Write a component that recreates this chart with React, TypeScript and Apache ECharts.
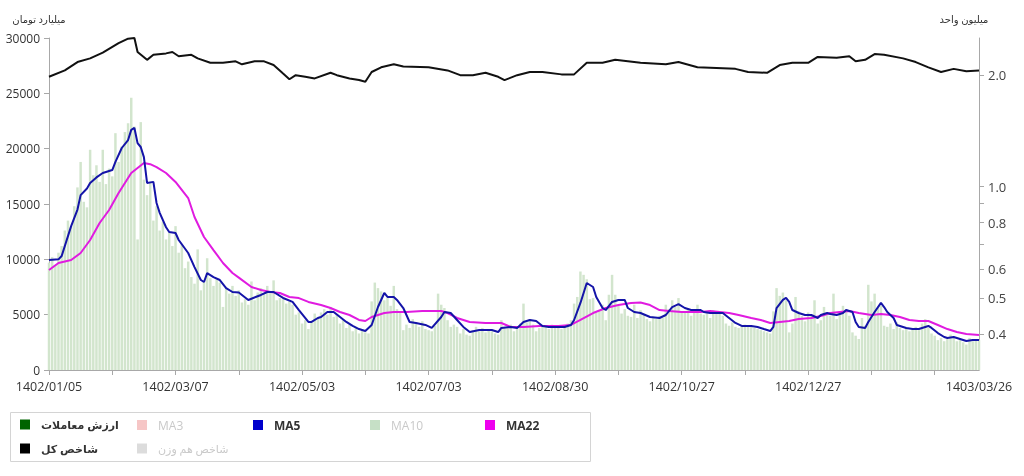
import React, { useEffect, useRef } from 'react';
import * as echarts from 'echarts';

// ---- categories (trading days) ----
const categoryCount = 295;
const dateLabels = ['1402/01/05', '1402/03/07', '1402/05/03', '1402/07/03', '1402/08/30', '1402/10/27', '1402/12/27', '1403/03/26'];
const dateLabelIndex = [0, 40, 80, 120, 160, 200, 240, 294];

// ---- trade value (billion toman), one bar per trading day ----
const tradeValue = [
  9700, 10200, 9500, 10600, 11200, 12600, 13500, 13000, 14800, 16500,
  18800, 15200, 14700, 19900, 17600, 18500, 17000, 19900, 16800, 18200,
  17500, 21400, 18800, 20200, 21500, 22300, 24600, 22000, 11800, 22400,
  17200, 15800, 16900, 13500, 14800, 12600, 13400, 11800, 12500, 11200,
  13000, 10600, 11400, 9200, 9800, 8400, 7800, 10900, 7200, 8000,
  10100, 8300, 7600, 8200, 7900, 5700, 7400, 6900, 7600, 6700,
  7200, 6100, 6400, 5900, 8000, 6300, 7000, 7400, 6900, 7600,
  7000, 8100, 6300, 6500, 6400, 6000, 6200, 5900, 5000, 5200,
  4200, 4500, 3700, 4300, 5100, 4800, 5200, 5500, 5000, 5700,
  4800, 5000, 4200, 4500, 3800, 4100, 3500, 3900, 3300, 3600,
  3400, 3300, 6200, 7900, 7400, 7100, 6300, 6500, 5800, 7600,
  5500, 5200, 3600, 4100, 3800, 4600, 4300, 3900, 4400, 3700,
  3600, 3500, 4000, 6900, 5900, 5600, 4500, 3900, 4100, 3900,
  3300, 3700, 3200, 3100, 3600, 3900, 3500, 3800, 3400, 3700,
  3500, 3300, 3200, 4500, 3900, 3800, 4100, 3500, 3700, 4200,
  6000, 4300, 4600, 4100, 3500, 3800, 3900, 4000, 3700, 4100,
  3800, 4000, 3700, 3900, 4200, 4500, 6000, 6600, 8900, 8600,
  8200, 6400, 6500, 5200, 5400, 5900, 4500, 6800, 8600, 6800,
  5800, 5100, 5500, 4900, 4800, 5900, 4700, 5400, 5000, 4600,
  4400, 4800, 4600, 4900, 4700, 5900, 5500, 6300, 5700, 6500,
  5300, 5200, 5600, 4900, 5500, 5900, 5100, 5000, 5300, 4700,
  5400, 5300, 5100, 4900, 4200, 4000, 4300, 3900, 3800, 4000,
  4100, 3900, 4000, 3800, 3700, 3600, 3500, 3400, 3300, 5300,
  7400, 6700, 7000, 6300, 3400, 4200, 6600, 5300, 4900, 4400,
  5200, 4900, 6300, 4200, 4500, 5700, 5000, 4900, 6900, 4600,
  5300, 5800, 5500, 4900, 3400, 3100, 2800, 4700, 4000, 7700,
  6200, 6900, 5600, 5800, 4000, 3900, 4200, 3700, 4300, 3800,
  3600, 3800, 3500, 3700, 3900, 3600, 4200, 4600, 3800, 3300,
  3100, 2700, 2900, 2600, 2800, 3200, 2900, 2600, 2700, 2500,
  2300, 2900, 2600, 2800, 2700,
];

// ---- MA5 [dayIndex, value] ----
const ma5Points = [
  [0, 9940], [3, 10000], [4, 10300], [7, 13000], [9, 14500], [10, 15800], [12, 16400], [13, 16900], [15, 17400], [17, 17800],
  [20, 18070], [21, 18800], [23, 20060], [25, 20780], [26, 21700], [27, 21870], [28, 20500], [29, 20150], [30, 19240], [31, 16900],
  [33, 17000], [34, 15090], [35, 14200], [37, 12900], [38, 12470], [40, 12380], [41, 11750], [44, 10570], [46, 9300], [48, 8130],
  [49, 7950], [50, 8760], [52, 8400], [54, 8130], [56, 7400], [58, 7050], [60, 7000], [63, 6330], [67, 6780], [69, 7050],
  [71, 7050], [74, 6510], [77, 6150], [79, 5420], [82, 4340], [83, 4340], [85, 4700], [86, 4790], [88, 5240], [90, 5240],
  [92, 4790], [94, 4340], [96, 3980], [98, 3700], [100, 3520], [102, 4070], [104, 5690], [106, 6960], [107, 6600], [109, 6600],
  [110, 6330], [112, 5600], [114, 4340], [116, 4250], [119, 4070], [121, 3800], [124, 4790], [125, 5240], [127, 5150], [129, 4520],
  [131, 3890], [133, 3430], [136, 3610], [138, 3610], [140, 3610], [142, 3430], [143, 3800], [146, 3890], [148, 3800], [150, 4340],
  [152, 4520], [154, 4430], [156, 3980], [158, 3890], [161, 3890], [163, 3890], [165, 4070], [166, 4520], [168, 6060], [170, 7860],
  [172, 7500], [173, 6600], [175, 5600], [176, 5420], [178, 6150], [180, 6330], [182, 6330], [183, 5600], [185, 5240], [187, 5150],
  [190, 4790], [193, 4700], [195, 4970], [197, 5690], [199, 5960], [201, 5600], [203, 5420], [206, 5420], [207, 5240], [209, 5150],
  [211, 5150], [213, 5150], [215, 4700], [217, 4250], [219, 3980], [222, 3980], [224, 3890], [226, 3700], [228, 3520], [229, 3890],
  [230, 5600], [232, 6330], [233, 6510], [234, 6150], [235, 5420], [237, 5150], [239, 4970], [241, 4970], [243, 4700], [244, 4970],
  [246, 5150], [247, 5060], [249, 4970], [251, 5150], [252, 5420], [254, 5240], [255, 4340], [256, 3890], [258, 3800], [259, 4340],
  [261, 5240], [263, 6060], [264, 5690], [265, 5240], [267, 4700], [268, 4070], [271, 3800], [273, 3700], [275, 3700], [278, 3980],
  [279, 3800], [281, 3340], [283, 2980], [284, 2890], [286, 2980], [288, 2800], [290, 2620], [292, 2710], [294, 2710],
];

// ---- MA22 [dayIndex, value] ----
const ma22Points = [
  [0, 9040], [3, 9670], [7, 9940], [10, 10570], [13, 11750], [16, 13280], [19, 14460], [22, 15990], [26, 17800], [28, 18250],
  [30, 18700], [32, 18600], [34, 18340], [37, 17800], [40, 16990], [44, 15540], [46, 13830], [49, 12020], [52, 10840], [55, 9670],
  [58, 8760], [60, 8350], [64, 7500], [67, 7230], [70, 7050], [73, 6960], [76, 6600], [79, 6500], [82, 6150], [86, 5870],
  [89, 5600], [92, 5240], [95, 4970], [98, 4520], [100, 4430], [102, 4790], [106, 5150], [109, 5240], [113, 5240], [118, 5330],
  [124, 5330], [126, 5150], [129, 4700], [133, 4340], [138, 4250], [143, 4250], [146, 3890], [150, 3890], [155, 3980], [161, 3980],
  [165, 4070], [168, 4520], [172, 5150], [176, 5600], [180, 5870], [184, 6060], [187, 6100], [190, 5870], [193, 5420], [196, 5330],
  [200, 5240], [203, 5240], [206, 5240], [209, 5330], [212, 5240], [215, 5150], [218, 4970], [222, 4700], [225, 4520], [228, 4250],
  [231, 4340], [234, 4430], [237, 4610], [241, 4700], [244, 4880], [247, 5150], [250, 5240], [253, 5330], [256, 5150], [260, 4970],
  [263, 5060], [266, 4970], [269, 4790], [272, 4520], [275, 4430], [278, 4430], [281, 4070], [284, 3700], [287, 3430], [290, 3250],
  [294, 3160],
];

// ---- total index (million units) [dayIndex, value] ----
const indexPoints = [
  [0, 1.98], [5, 2.06], [9, 2.17], [13, 2.22], [17, 2.30], [22, 2.44], [25, 2.51], [27, 2.52], [28, 2.31], [31, 2.20],
  [33, 2.27], [37, 2.29], [39, 2.31], [41, 2.25], [45, 2.27], [47, 2.22], [51, 2.16], [55, 2.16], [59, 2.18], [61, 2.14],
  [65, 2.18], [68, 2.18], [71, 2.13], [74, 2.02], [76, 1.95], [78, 2.0], [81, 1.98], [84, 1.96], [89, 2.03], [91, 2.0],
  [95, 1.96], [98, 1.94], [100, 1.92], [102, 2.04], [105, 2.10], [109, 2.14], [112, 2.11], [120, 2.10], [126, 2.06], [130, 2.0],
  [134, 2.0], [138, 2.03], [142, 1.98], [144, 1.94], [148, 2.0], [152, 2.04], [156, 2.04], [162, 2.01], [166, 2.01], [170, 2.16],
  [175, 2.16], [179, 2.20], [187, 2.16], [195, 2.14], [199, 2.17], [205, 2.10], [211, 2.09], [217, 2.08], [221, 2.04], [227, 2.03],
  [231, 2.13], [235, 2.16], [240, 2.16], [243, 2.24], [249, 2.23], [253, 2.25], [255, 2.18], [258, 2.20], [261, 2.28], [264, 2.27],
  [270, 2.22], [274, 2.17], [278, 2.10], [282, 2.04], [286, 2.08], [290, 2.05], [294, 2.06],
];

// ---- axes ----
const leftMin = 0;
const leftMax = 30000;
const leftInterval = 5000;
const rightMin = 0.32;
const rightMax = 2.52;
const rightLabelValues = [0.4, 0.5, 0.6, 0.8, 1.0, 2.0];
const rightTickValues = [0.4, 0.5, 0.6, 0.7, 0.8, 0.9, 1.0, 2.0];
const xTickEvery = 20;

// ---- legend entries ----
const legendNames = ['ارزش معاملات', 'MA3', 'MA5', 'MA10', 'MA22', 'شاخص کل', 'شاخص هم وزن'];
const legendColors = ['#006400', '#f6c6c6', '#0000cc', '#c6e0c6', '#ee00ee', '#000000', '#dcdcdc'];
const legendActive = [true, false, true, false, true, true, false];

const FONT = 'Open Sans, DejaVu Sans, sans-serif';
const AXIS_GRAY = '#a8a8a8';

const categories = Array.from({ length: categoryCount }, (_, i) => String(i));

const legendSlots = [
  [20, 419], [137, 419], [253, 419], [370, 419], [485, 419],
  [20, 443], [137, 443],
];

const legends = legendNames.map((name, i) => ({
  left: legendSlots[i][0],
  top: legendSlots[i][1],
  padding: 0,
  icon: 'rect',
  itemWidth: 10,
  itemHeight: 10,
  itemGap: 0,
  selectedMode: false,
  textStyle: {
    fontFamily: FONT,
    fontSize: /[A-Z]/.test(name) ? 12 : 11,
    fontWeight: legendActive[i] ? 'bold' : 'normal',
    color: legendActive[i] ? '#333' : '#c9c9c9',
    padding: [0, 0, 0, 6],
  },
  data: [{ name, itemStyle: { color: legendColors[i] } }],
}));

const option: any = {
  animation: false,
  textStyle: { fontFamily: FONT },
  grid: { left: 49, right: 45, top: 38, bottom: 106, containLabel: false },
  graphic: [
    {
      type: 'text',
      style: { text: 'میلیارد تومان', x: 39, y: 19, textAlign: 'center', textVerticalAlign: 'middle', fill: '#333', font: `10px ${FONT}` },
    },
    {
      type: 'text',
      style: { text: 'میلیون واحد', x: 964, y: 19, textAlign: 'center', textVerticalAlign: 'middle', fill: '#333', font: `10px ${FONT}` },
    },
    {
      type: 'rect',
      shape: { x: 10.5, y: 412.5, width: 580, height: 49 },
      style: { fill: 'none', stroke: '#d4d4d4', lineWidth: 1 },
      silent: true,
    },
  ],
  legend: legends,
  xAxis: {
    type: 'category',
    data: categories,
    boundaryGap: false,
    axisLine: { show: true, lineStyle: { color: AXIS_GRAY } },
    axisTick: { show: true, length: 5, interval: (i: number) => i % xTickEvery === 0, lineStyle: { color: AXIS_GRAY } },
    axisLabel: {
      interval: (i: number) => dateLabelIndex.includes(i),
      formatter: (_v: string, i: number) => {
        const k = dateLabelIndex.indexOf(i);
        return k >= 0 ? dateLabels[k] : '';
      },
      color: '#333',
      fontSize: 12.5,
      margin: 10,
      fontFamily: FONT,
    },
    splitLine: { show: false },
  },
  yAxis: [
    {
      type: 'value',
      min: leftMin,
      max: leftMax,
      interval: leftInterval,
      position: 'left',
      axisLine: { show: true, lineStyle: { color: AXIS_GRAY } },
      axisTick: { show: true, length: 5, lineStyle: { color: AXIS_GRAY } },
      axisLabel: { color: '#333', fontSize: 12, margin: 9, fontFamily: FONT, formatter: (v: number) => String(v) },
      splitLine: { show: false },
    },
    {
      type: 'log',
      logBase: 10,
      min: rightMin,
      max: rightMax,
      position: 'right',
      axisLine: { show: true, lineStyle: { color: AXIS_GRAY } },
      axisTick: { show: true, length: 5, customValues: rightTickValues, lineStyle: { color: AXIS_GRAY } },
      axisLabel: {
        customValues: rightLabelValues,
        formatter: (v: number) => Number(v).toFixed(1),
        color: '#444',
        fontSize: 13,
        margin: 9,
        fontFamily: FONT,
      },
      splitLine: { show: false },
    },
  ],
  series: [
    {
      name: 'ارزش معاملات',
      type: 'bar',
      yAxisIndex: 0,
      data: tradeValue,
      barCategoryGap: '22%',
      itemStyle: { color: '#d2e5cd' },
    },
    { name: 'MA3', type: 'line', data: [], itemStyle: { color: '#f6c6c6' } },
    { name: 'MA10', type: 'line', data: [], itemStyle: { color: '#c6e0c6' } },
    {
      name: 'MA22',
      type: 'line',
      yAxisIndex: 0,
      data: ma22Points,
      showSymbol: false,
      symbol: 'none',
      itemStyle: { color: '#ee00ee' },
      lineStyle: { color: '#e01be0', width: 2 },
    },
    {
      name: 'MA5',
      type: 'line',
      yAxisIndex: 0,
      data: ma5Points,
      showSymbol: false,
      symbol: 'none',
      itemStyle: { color: '#0000cc' },
      lineStyle: { color: '#1414a8', width: 2 },
    },
    {
      name: 'شاخص کل',
      type: 'line',
      yAxisIndex: 1,
      data: indexPoints,
      showSymbol: false,
      symbol: 'none',
      itemStyle: { color: '#000' },
      lineStyle: { color: '#111', width: 2 },
    },
    { name: 'شاخص هم وزن', type: 'line', yAxisIndex: 1, data: [], itemStyle: { color: '#dcdcdc' } },
  ],
};

export default function App() {
  const ref = useRef<HTMLDivElement>(null);
  useEffect(() => {
    if (!ref.current) return;
    const chart = echarts.init(ref.current, null, { renderer: 'svg' });
    chart.setOption(option);
    return () => chart.dispose();
  }, []);
  return <div ref={ref} style={{ position: 'fixed', left: 0, top: 0, width: 1024, height: 476 }} />;
}
